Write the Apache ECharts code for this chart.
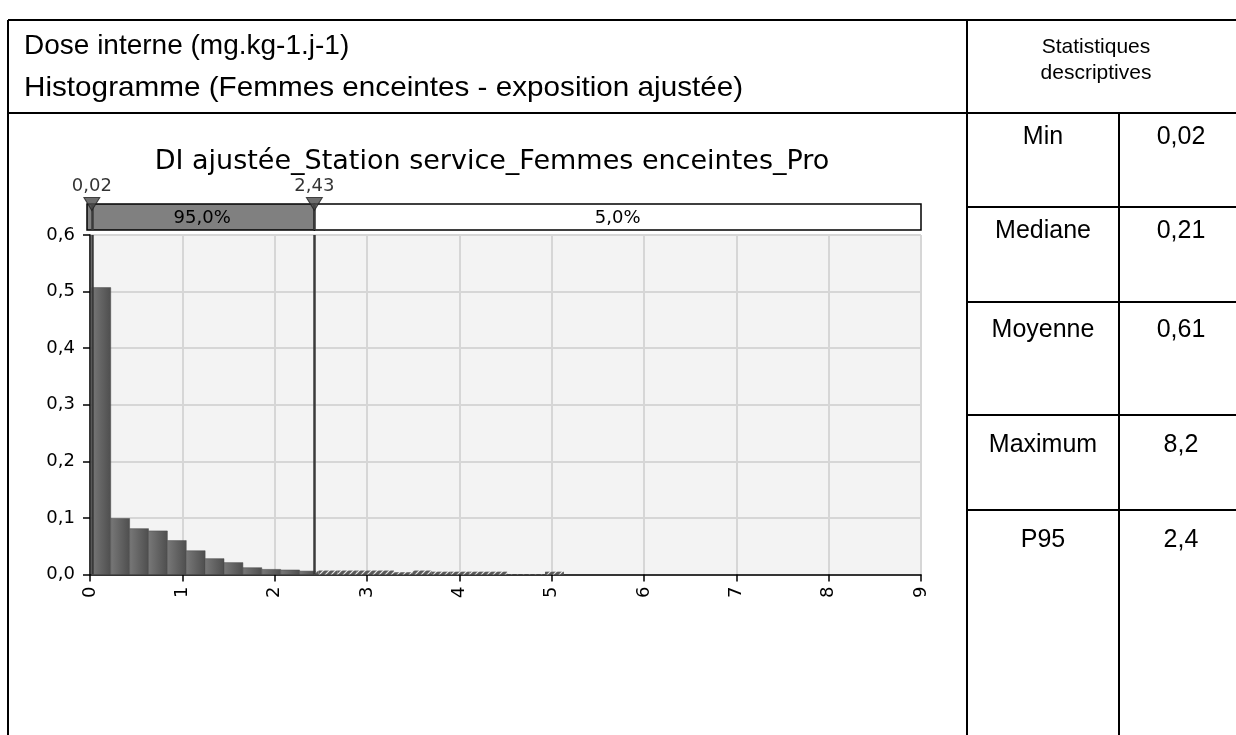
<!DOCTYPE html>
<html>
<head>
<meta charset="utf-8">
<script src="https://cdn.jsdelivr.net/npm/echarts@6/dist/echarts.min.js"></script>
<style>
  html, body { margin: 0; padding: 0; background: #ffffff; }
  #chart { width: 1236px; height: 735px; }
</style>
</head>
<body>
<div id="chart"></div>
<script>
// Internal dose (mg.kg-1.j-1), adjusted exposure: histogram of probabilities per bin,
// 40 equal-width bins running from the minimum to the maximum of the sample.
const headerLines = ['Dose interne (mg.kg-1.j-1)', 'Histogramme (Femmes enceintes - exposition ajustée)'];
const statsHeader = ['Statistiques', 'descriptives'];
const chartTitle = 'DI ajustée_Station service_Femmes enceintes_Pro';

const binStart = 0.02;
const binEnd = 8.2;
const binHeights = [
  0.507, 0.099, 0.081, 0.077, 0.060, 0.042, 0.028, 0.021, 0.012, 0.009,
  0.008, 0.006, 0.007, 0.007, 0.007, 0.007, 0.004, 0.007, 0.005, 0.005,
  0.005, 0.005, 0.0005, 0.0005, 0.005, 0, 0, 0, 0, 0,
  0, 0, 0, 0, 0, 0, 0, 0, 0, 0
];

// Axis ranges
const xMin = 0, xMax = 9, xStep = 1;
const yMin = 0, yMax = 0.6, yStep = 0.1;

// Delimiters of the central band (minimum and 95th percentile) and the shares on each side
const markerValues = [0.02, 2.43];
const markerLabels = ['0,02', '2,43'];
const shareLabels = ['95,0%', '5,0%'];

// Descriptive statistics table
const statNames = ['Min', 'Mediane', 'Moyenne', 'Maximum', 'P95'];
const statValues = ['0,02', '0,21', '0,61', '8,2', '2,4'];

const binWidth = (binEnd - binStart) / binHeights.length;
const binData = binHeights.map((h, i) => [binStart + i * binWidth, binStart + (i + 1) * binWidth, h]);
const p95 = markerValues[1];

const chartFont = 'DejaVu Sans';
const tableFont = 'Liberation Sans, Arial, sans-serif';

// Hatch pattern for the bars beyond the 95th percentile
function makeHatch() {
  const c = document.createElement('canvas');
  c.width = 6; c.height = 6;
  const g = c.getContext('2d');
  g.fillStyle = '#5a5a5a';
  g.fillRect(0, 0, 6, 6);
  g.strokeStyle = 'rgba(255,255,255,0.85)';
  g.lineWidth = 1.2;
  g.beginPath();
  g.moveTo(0, 6); g.lineTo(6, 0);
  g.moveTo(-3, 3); g.lineTo(3, -3);
  g.moveTo(3, 9); g.lineTo(9, 3);
  g.stroke();
  return { image: c, repeat: 'repeat' };
}
const hatch = makeHatch();
const barGradient = new echarts.graphic.LinearGradient(0, 0, 1, 0, [
  { offset: 0, color: '#787878' },
  { offset: 1, color: '#4e4e4e' }
]);

function renderBin(params, api) {
  const x0 = api.value(0), x1 = api.value(1), h = api.value(2);
  const children = [];
  if (h <= 0) return { type: 'group', children };
  if (x0 < p95) {
    const a = api.coord([x0, h]);
    const b = api.coord([Math.min(x1, p95), 0]);
    children.push({
      type: 'rect',
      shape: { x: a[0], y: a[1], width: b[0] - a[0], height: b[1] - a[1] },
      style: { fill: barGradient, stroke: '#4a4a4a', lineWidth: 0.5 }
    });
  }
  if (x1 > p95) {
    const a = api.coord([Math.max(x0, p95), h]);
    const b = api.coord([x1, 0]);
    children.push({
      type: 'rect',
      shape: { x: a[0], y: a[1], width: b[0] - a[0], height: b[1] - a[1] },
      style: { fill: hatch }
    });
  }
  return { type: 'group', children };
}

// Band above the plot: grey from the axis start to P95, white from P95 to the axis end
const bandData = [
  [xMin, p95, 0],
  [p95, xMax, 1]
];
function renderBand(params, api) {
  const a = api.coord([api.value(0), 1]);
  const b = api.coord([api.value(1), 0]);
  const idx = api.value(2);
  const pad = idx === 0 ? 3 : 0;
  return {
    type: 'group',
    children: [
      {
        type: 'rect',
        shape: { x: a[0] - pad, y: a[1], width: b[0] - a[0] + pad, height: b[1] - a[1] },
        style: { fill: idx === 0 ? '#808080' : '#ffffff', stroke: '#000000', lineWidth: 1.5 }
      },
      {
        type: 'text',
        x: (a[0] + b[0]) / 2,
        y: (a[1] + b[1]) / 2 + 1,
        style: {
          text: shareLabels[idx], fill: '#000000', font: '18px "DejaVu Sans"',
          align: 'center', verticalAlign: 'middle'
        }
      }
    ]
  };
}

// Table frame and header texts
const L = 8, T = 20, W = 1236, H = 735, headerBottom = 113, splitX = 967, colX = 1119;
const rowLines = [207, 302, 415, 510];
const rowTextY = [137, 231, 330, 445, 540];
const lineStyle = { stroke: '#000000', lineWidth: 2 };
const hl = (x1, x2, y) => ({ type: 'line', shape: { x1, y1: y, x2, y2: y }, style: lineStyle, z: 100 });
const vl = (x, y1, y2) => ({ type: 'line', shape: { x1: x, y1, x2: x, y2 }, style: lineStyle, z: 100 });

const graphics = [
  hl(L, W, T), vl(L, T, H), hl(L, W, headerBottom), vl(splitX, T, H), vl(colX, headerBottom, H),
  ...rowLines.map(y => hl(splitX, W, y)),
  ...headerLines.map((t, i) => ({
    type: 'text', x: 24, y: [46, 88][i], z: 100, scaleX: [1, 1.06][i],
    style: { text: t, font: '28px ' + tableFont, fill: '#000', align: 'left', verticalAlign: 'middle' }
  })),
  ...statsHeader.map((t, i) => ({
    type: 'text', x: 1096, y: [47, 73][i], z: 100,
    style: { text: t, font: '21px ' + tableFont, fill: '#000', align: 'center', verticalAlign: 'middle' }
  })),
  ...statNames.map((t, i) => ({
    type: 'text', x: 1043, y: rowTextY[i], z: 100,
    style: { text: t, font: '25px ' + tableFont, fill: '#000', align: 'center', verticalAlign: 'middle' }
  })),
  ...statValues.map((t, i) => ({
    type: 'text', x: 1181, y: rowTextY[i], z: 100,
    style: { text: t, font: '25px ' + tableFont, fill: '#000', align: 'center', verticalAlign: 'middle' }
  }))
];

const chart = echarts.init(document.getElementById('chart'), null, { renderer: 'canvas' });
chart.setOption({
  animation: false,
  backgroundColor: '#ffffff',
  title: {
    text: chartTitle,
    left: 487, top: 143, textAlign: 'center',
    textStyle: { fontFamily: chartFont, fontSize: 27, fontWeight: 'normal', color: '#000' }
  },
  grid: [
    { left: 90, right: 315, top: 235, bottom: 160.5, show: true, backgroundColor: '#f3f3f3', borderWidth: 0 },
    { left: 90, right: 315, top: 204, height: 26, show: false }
  ],
  xAxis: [
    {
      gridIndex: 0, type: 'value', min: xMin, max: xMax, interval: xStep,
      axisLine: { show: true, onZero: false, lineStyle: { color: '#000', width: 1.5 } },
      axisTick: { show: true, length: 7, lineStyle: { color: '#000', width: 1.5 } },
      axisLabel: { rotate: 90, margin: 12, fontFamily: chartFont, fontSize: 18, color: '#000' },
      splitLine: { show: true, lineStyle: { color: '#d6d6d6', width: 2 } }
    },
    { gridIndex: 1, type: 'value', min: xMin, max: xMax, show: false }
  ],
  yAxis: [
    {
      gridIndex: 0, type: 'value', min: yMin, max: yMax, interval: yStep,
      axisLine: { show: true, lineStyle: { color: '#000', width: 1.5 } },
      axisTick: { show: true, length: 7, lineStyle: { color: '#000', width: 1.5 } },
      axisLabel: {
        margin: 15, fontFamily: chartFont, fontSize: 18, color: '#000',
        formatter: v => v.toFixed(1).replace('.', ',')
      },
      splitLine: { show: true, lineStyle: { color: '#d6d6d6', width: 2 } }
    },
    { gridIndex: 1, type: 'value', min: 0, max: 1, show: false }
  ],
  series: [
    {
      type: 'custom', xAxisIndex: 0, yAxisIndex: 0,
      renderItem: renderBin, data: binData, encode: { x: [0, 1], y: 2 },
      silent: true, z: 3,
      markLine: {
        silent: true, symbol: ['none', 'none'], label: { show: false }, animation: false,
        lineStyle: { color: '#3a3a3a', width: 2.5, type: 'solid' },
        data: markerValues.map(v => ({ xAxis: v }))
      }
    },
    {
      type: 'custom', xAxisIndex: 1, yAxisIndex: 1,
      renderItem: renderBand, data: bandData, encode: { x: [0, 1] },
      silent: true, z: 3
    },
    {
      type: 'scatter', xAxisIndex: 1, yAxisIndex: 1, z: 6,
      data: markerValues.map((v, i) => ({ value: [v, 1], label: { formatter: markerLabels[i] } })),
      symbol: 'triangle', symbolRotate: 180, symbolSize: [16, 13],
      itemStyle: { color: '#4a4a4a', borderColor: '#222222', borderWidth: 1 },
      label: { show: true, position: 'top', distance: 2, fontFamily: chartFont, fontSize: 18, color: '#000' },
      markLine: {
        silent: true, symbol: ['none', 'none'], label: { show: false }, animation: false,
        lineStyle: { color: '#3a3a3a', width: 2.5, type: 'solid' },
        data: markerValues.map(v => ({ xAxis: v }))
      },
      silent: true
    }
  ],
  graphic: graphics
});
</script>
</body>
</html>
